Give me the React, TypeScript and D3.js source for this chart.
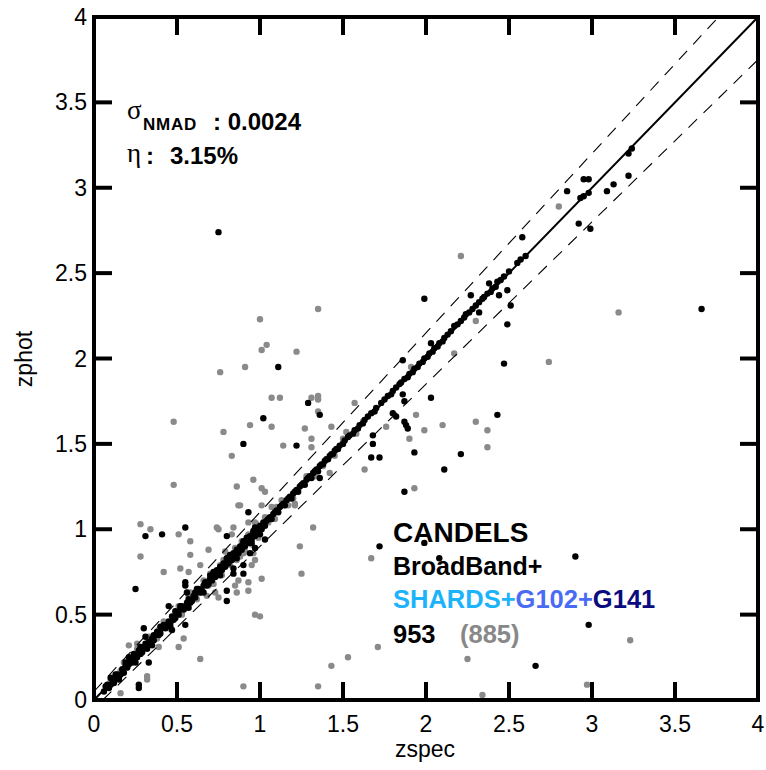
import React from "react";
import * as d3 from "d3";

// ---------- data ----------
const xTicks = [0, 0.5, 1, 1.5, 2, 2.5, 3, 3.5, 4];
const yTicks = [0, 0.5, 1, 1.5, 2, 2.5, 3, 3.5, 4];
const xTickLabels = ["0", "0.5", "1", "1.5", "2", "2.5", "3", "3.5", "4"];
const yTickLabels = ["0", "0.5", "1", "1.5", "2", "2.5", "3", "3.5", "4"];
const outlierFraction = 0.05;

// gray sample (zspec, zphot)
const grayPoints: [number, number][] = [
  [0.10, 0.11], [0.16, 0.17], [0.20, 0.19], [0.24, 0.25], [0.29, 0.30], [0.34, 0.33], [0.39, 0.41],
  [0.44, 0.43], [0.49, 0.50], [0.54, 0.53], [0.59, 0.60], [0.64, 0.63], [0.69, 0.70], [0.74, 0.73],
  [0.79, 0.81], [0.84, 0.83], [0.89, 0.91], [0.94, 0.93], [0.99, 1.01], [1.05, 1.04], [1.15, 1.14],
  [1.25, 1.26], [1.38, 1.37], [1.50, 1.51], [1.62, 1.63],
  [0.72, 0.68], [0.77, 0.73], [0.82, 0.79], [0.86, 0.82], [0.88, 0.84], [0.91, 0.87], [0.95, 0.91],
  [0.62, 0.59], [0.53, 0.50], [0.45, 0.42], [0.38, 0.36], [0.76, 0.79], [0.81, 0.85], [0.89, 0.93],
  [0.98, 1.03], [1.03, 1.07], [1.13, 1.17], [1.28, 1.31], [1.45, 1.43], [1.58, 1.56],
  [0.18, 0.22], [0.42, 0.46], [0.66, 0.70], [0.85, 0.89], [0.93, 0.97], [1.20, 1.18], [1.33, 1.31],
  [0.26, 0.30], [0.33, 0.37], [0.51, 0.55], [0.57, 0.61], [0.70, 0.74], [0.78, 0.82], [0.90, 0.86],
  [0.99, 0.95], [1.09, 1.06], [1.17, 1.14],
  [2.80, 2.89], [2.21, 2.60], [2.74, 1.98], [3.16, 2.27], [2.17, 2.03], [2.30, 2.22], [1.91, 1.95],
  [1.35, 2.29], [1.00, 2.23], [1.04, 2.08], [1.01, 2.05], [1.22, 2.04], [0.91, 1.95], [0.76, 1.92],
  [0.48, 1.63], [0.48, 1.26], [0.94, 1.61], [0.78, 1.57], [0.83, 1.43], [0.96, 1.29], [0.86, 1.25],
  [1.01, 1.24], [0.87, 1.14], [0.88, 1.14], [1.01, 1.14], [0.28, 1.03], [0.34, 1.00], [0.51, 0.97],
  [0.74, 1.01], [0.84, 1.01], [0.83, 0.97], [0.97, 1.04], [0.93, 1.04], [0.75, 1.00],
  [0.28, 0.84], [0.42, 0.75], [0.58, 0.93], [0.58, 0.85], [0.52, 0.77], [0.57, 0.75], [0.64, 0.79],
  [0.69, 0.88], [0.58, 0.63], [0.21, 0.32], [0.26, 0.33], [0.39, 0.31], [0.51, 0.31], [0.54, 0.36],
  [0.64, 0.24], [0.32, 0.14], [0.32, 0.12], [0.90, 0.08], [0.16, 0.04],
  [0.73, 0.63], [0.75, 0.60], [0.85, 0.67], [0.86, 0.63], [0.87, 0.70], [0.93, 0.69], [0.93, 0.64],
  [0.95, 0.79], [0.97, 0.82], [0.96, 0.86], [0.97, 0.50], [1.00, 0.49], [1.01, 0.71], [0.79, 0.87],
  [0.78, 0.78], [0.68, 0.61], [0.69, 0.67],
  [1.07, 1.60], [1.07, 1.77], [1.12, 1.77], [1.14, 1.49], [1.31, 1.77], [1.35, 1.78], [1.35, 1.76],
  [1.27, 1.59], [1.31, 1.53], [1.31, 1.48], [1.43, 1.60], [1.50, 1.53], [1.63, 1.35], [1.42, 1.33],
  [1.21, 1.15], [1.32, 1.01], [1.24, 0.90], [1.25, 0.74], [1.67, 0.83], [1.71, 0.31], [1.53, 0.25],
  [1.43, 0.20], [1.35, 0.08],
  [1.35, 1.69], [1.57, 1.74], [1.94, 1.67], [1.99, 1.58], [1.90, 1.53], [1.76, 1.60], [1.52, 1.57],
  [1.03, 1.22], [1.07, 1.13], [1.10, 1.13], [1.21, 1.14], [1.93, 1.24],
  [2.10, 1.61], [2.30, 1.63], [2.37, 1.58], [2.37, 1.48], [3.23, 0.35], [2.25, 0.24], [2.97, 0.09],
  [2.34, 0.03],
];

// black sample (zspec, zphot)
const blackPoints: [number, number][] = [
  [0.06, 0.05], [0.08, 0.09], [0.09, 0.07], [0.11, 0.12], [0.12, 0.10], [0.14, 0.15], [0.15, 0.13],
  [0.17, 0.18], [0.18, 0.16], [0.19, 0.20], [0.21, 0.21], [0.22, 0.24], [0.23, 0.22], [0.25, 0.26],
  [0.26, 0.25], [0.27, 0.29], [0.28, 0.27], [0.30, 0.31], [0.31, 0.33], [0.32, 0.30], [0.33, 0.34],
  [0.35, 0.36], [0.36, 0.35], [0.37, 0.38], [0.38, 0.40], [0.40, 0.39], [0.41, 0.42], [0.42, 0.44],
  [0.43, 0.42], [0.45, 0.46], [0.46, 0.45], [0.47, 0.49], [0.48, 0.47], [0.50, 0.51], [0.51, 0.50],
  [0.52, 0.53], [0.53, 0.55], [0.55, 0.54], [0.56, 0.57], [0.57, 0.59], [0.58, 0.57], [0.60, 0.61],
  [0.61, 0.60], [0.62, 0.63], [0.63, 0.65], [0.65, 0.64], [0.66, 0.67], [0.67, 0.69], [0.68, 0.67],
  [0.70, 0.71], [0.71, 0.70], [0.72, 0.74], [0.73, 0.72], [0.74, 0.76], [0.75, 0.75], [0.76, 0.78],
  [0.77, 0.76], [0.78, 0.80], [0.79, 0.78], [0.80, 0.82], [0.81, 0.80], [0.82, 0.84], [0.83, 0.82],
  [0.84, 0.86], [0.85, 0.84], [0.86, 0.88], [0.87, 0.86], [0.88, 0.90], [0.89, 0.88], [0.90, 0.92],
  [0.91, 0.90], [0.92, 0.94], [0.93, 0.92], [0.94, 0.96], [0.95, 0.94], [0.96, 0.98], [0.97, 0.96],
  [0.98, 1.00], [0.99, 0.98], [1.00, 1.02], [1.01, 1.00], [1.02, 1.04], [1.04, 1.05], [1.06, 1.07],
  [1.08, 1.09], [1.10, 1.11], [1.12, 1.13], [1.14, 1.15], [1.16, 1.17], [1.18, 1.19], [1.20, 1.21],
  [1.22, 1.23], [1.24, 1.25], [1.26, 1.27], [1.28, 1.29], [1.30, 1.31], [1.32, 1.33], [1.34, 1.35],
  [1.36, 1.37], [1.39, 1.40], [1.42, 1.43], [1.45, 1.46], [1.48, 1.49], [1.51, 1.52], [1.54, 1.55],
  [1.57, 1.58], [1.60, 1.61], [1.63, 1.64], [1.67, 1.68], [1.70, 1.71], [1.73, 1.74], [1.77, 1.78],
  [1.80, 1.81], [1.84, 1.85], [1.87, 1.88], [1.90, 1.91], [1.93, 1.94], [1.96, 1.97], [1.99, 2.00],
  [2.02, 2.03], [2.05, 2.06], [2.08, 2.09], [2.11, 2.12], [2.13, 2.14], [2.15, 2.16], [2.17, 2.19],
  [2.19, 2.20], [2.21, 2.22], [2.23, 2.24], [2.24, 2.26], [2.26, 2.27], [2.28, 2.29], [2.30, 2.31],
  [2.32, 2.33], [2.34, 2.35], [2.37, 2.38], [2.40, 2.41], [2.43, 2.45], [2.45, 2.46], [2.47, 2.48],
  [2.55, 2.56], [2.57, 2.58], [2.60, 2.60], [2.93, 2.94], [2.95, 2.95], [2.98, 2.97], [3.22, 3.20],
  [3.24, 3.23],
  [0.07, 0.08], [0.10, 0.09], [0.13, 0.13], [0.16, 0.15], [0.20, 0.19], [0.24, 0.23], [0.29, 0.28],
  [0.34, 0.33], [0.39, 0.38], [0.44, 0.44], [0.49, 0.48], [0.54, 0.53], [0.59, 0.58], [0.64, 0.63],
  [0.69, 0.68], [0.74, 0.73], [0.79, 0.79], [0.84, 0.83], [0.89, 0.89], [0.94, 0.93], [0.99, 0.99],
  [0.13, 0.15], [0.24, 0.27], [0.36, 0.38], [0.49, 0.52], [0.61, 0.63], [0.72, 0.75], [0.82, 0.85],
  [0.92, 0.95], [0.97, 1.01],
  [0.10, 0.13], [0.19, 0.22], [0.28, 0.31], [0.40, 0.43], [0.52, 0.55], [0.62, 0.65], [0.70, 0.73],
  [0.80, 0.83], [0.90, 0.93], [0.96, 0.99], [0.15, 0.12], [0.25, 0.22], [0.35, 0.32], [0.46, 0.43],
  [0.57, 0.54], [0.66, 0.63], [0.76, 0.73], [0.86, 0.83], [0.95, 0.92], [1.00, 0.97],
  [1.03, 1.02], [1.05, 1.06], [1.07, 1.06], [1.09, 1.10], [1.11, 1.10], [1.13, 1.14], [1.15, 1.14],
  [1.17, 1.18], [1.19, 1.18], [1.21, 1.22], [1.23, 1.22], [1.25, 1.26], [1.27, 1.26], [1.29, 1.30],
  [1.31, 1.30], [1.33, 1.34], [1.35, 1.34], [1.37, 1.38], [1.38, 1.38], [1.40, 1.41], [1.41, 1.41],
  [1.43, 1.44], [1.44, 1.44], [1.46, 1.47], [1.47, 1.47], [1.50, 1.50], [1.53, 1.54], [1.56, 1.56],
  [1.59, 1.59], [1.62, 1.62], [1.65, 1.66], [1.69, 1.69], [1.75, 1.76], [1.79, 1.79], [1.82, 1.83],
  [1.85, 1.86], [1.89, 1.89], [1.92, 1.92], [1.95, 1.95], [1.98, 1.98], [2.01, 2.01], [2.04, 2.04],
  [2.07, 2.07], [2.10, 2.10], [2.35, 2.36], [2.39, 2.39], [2.42, 2.42], [2.50, 2.51],
  [0.75, 2.74],
  [2.85, 2.98], [2.95, 3.05], [2.98, 3.05], [2.92, 2.79], [2.99, 2.76], [3.09, 2.98], [3.13, 3.02],
  [3.22, 3.07], [2.58, 2.71], [1.99, 2.35], [2.27, 2.37], [2.38, 2.44], [2.44, 2.37], [2.49, 2.40],
  [2.51, 2.31], [2.49, 2.20], [2.47, 1.97], [3.66, 2.29], [2.03, 2.09], [1.86, 1.99], [2.32, 2.27],
  [1.11, 1.95], [1.02, 1.65], [0.90, 1.50], [0.93, 1.10], [0.31, 0.96], [0.41, 0.97], [0.55, 1.01],
  [0.80, 0.96], [0.25, 0.65], [0.55, 0.69], [0.55, 0.67], [0.56, 0.63], [0.45, 0.55], [0.30, 0.42],
  [0.31, 0.37], [0.47, 0.41], [0.55, 0.44], [0.33, 0.22], [0.27, 0.09], [0.27, 0.07], [0.21, 0.25],
  [0.80, 0.64], [0.80, 0.58], [0.84, 0.74], [0.90, 0.74], [0.90, 0.79], [0.94, 0.86], [0.84, 0.77],
  [0.97, 0.89], [1.03, 0.94], [1.22, 1.49], [1.29, 1.74], [1.36, 1.67], [1.68, 1.55], [1.68, 1.50],
  [1.67, 1.42], [1.72, 1.42], [1.36, 1.30], [1.72, 0.90], [1.86, 1.79], [1.87, 1.75], [1.80, 1.68],
  [1.82, 1.66], [1.87, 1.63], [1.88, 1.61], [1.89, 1.59], [1.93, 1.45], [1.87, 1.22], [2.03, 1.77],
  [2.43, 1.67], [2.21, 1.44], [2.11, 1.35], [1.99, 0.92], [2.08, 0.83], [2.90, 0.84], [2.98, 0.44],
  [2.66, 0.20],
];

const statsSigma = "0.0024";
const statsEta = "3.15%";
const nBlack = "953";
const nGray = "(885)";

// ---------- layout ----------
const W = 766;
const H = 770;
const left = 94, right = 758, top = 17, bottom = 700;
const SANS = "'Liberation Sans', Arial, Helvetica, sans-serif";
const SERIF = "'Liberation Serif', 'Times New Roman', serif";

export default function App() {
  const x = d3.scaleLinear().domain([0, 4]).range([left, right]);
  const y = d3.scaleLinear().domain([0, 4]).range([bottom, top]);
  const line = d3.line<[number, number]>().x((d) => x(d[0])).y((d) => y(d[1]));

  const oneToOne: [number, number][] = [[0, 0], [4, 4]];
  const upperEnd = (4 - outlierFraction) / (1 + outlierFraction);
  const upper: [number, number][] = [
    [0, outlierFraction],
    [upperEnd, 4],
  ];
  const lowerStart = outlierFraction / (1 - outlierFraction);
  const lower: [number, number][] = [
    [lowerStart, 0],
    [4, 4 - outlierFraction * 5],
  ];

  const tickLen = 18;
  const sw = 4;
  const r = 3.2;

  return (
    <svg
      width={W}
      height={H}
      style={{ position: "absolute", left: 0, top: 0, background: "#fff" }}
      fontFamily={SANS}
    >
      <defs>
        <clipPath id="plot">
          <rect x={left} y={top} width={right - left} height={bottom - top} />
        </clipPath>
      </defs>
      <rect x={0} y={0} width={W} height={H} fill="#fff" />

      <g clipPath="url(#plot)">
        {grayPoints.map((d, i) => (
          <circle key={"g" + i} cx={x(d[0])} cy={y(d[1])} r={r} fill="#8a8a8a" />
        ))}
        {blackPoints.map((d, i) => (
          <circle key={"b" + i} cx={x(d[0])} cy={y(d[1])} r={r} fill="#000" />
        ))}
        <path d={line(oneToOne) || ""} stroke="#000" strokeWidth={2} fill="none" />
        <path d={line(upper) || ""} stroke="#000" strokeWidth={1.1} strokeDasharray="12,9" fill="none" />
        <path d={line(lower) || ""} stroke="#000" strokeWidth={1.1} strokeDasharray="12,9" fill="none" />
      </g>

      {/* ticks */}
      {xTicks.slice(1, -1).map((t) => (
        <g key={"xt" + t}>
          <line x1={x(t)} x2={x(t)} y1={bottom} y2={bottom - tickLen} stroke="#000" strokeWidth={sw} />
          <line x1={x(t)} x2={x(t)} y1={top} y2={top + tickLen} stroke="#000" strokeWidth={sw} />
        </g>
      ))}
      {yTicks.slice(1, -1).map((t) => (
        <g key={"yt" + t}>
          <line x1={left} x2={left + tickLen} y1={y(t)} y2={y(t)} stroke="#000" strokeWidth={sw} />
          <line x1={right} x2={right - tickLen} y1={y(t)} y2={y(t)} stroke="#000" strokeWidth={sw} />
        </g>
      ))}
      <rect
        x={left}
        y={top}
        width={right - left}
        height={bottom - top}
        fill="none"
        stroke="#000"
        strokeWidth={sw}
      />

      {/* tick labels */}
      {xTicks.map((t, i) => (
        <text key={"xl" + t} x={x(t)} y={732} fontSize={23} textAnchor="middle" fill="#000">
          {xTickLabels[i]}
        </text>
      ))}
      {yTicks.map((t, i) => (
        <text
          key={"yl" + t}
          x={87}
          y={y(t) + 8}
          fontSize={23}
          textAnchor="end"
          fill="#000"
        >
          {yTickLabels[i]}
        </text>
      ))}

      {/* axis titles */}
      <text x={425} y={757} fontSize={23} textAnchor="middle" fill="#000">
        zspec
      </text>
      <text
        transform={`translate(32,359) rotate(-90)`}
        fontSize={23}
        textAnchor="middle"
        fill="#000"
      >
        zphot
      </text>

      {/* stats */}
      <text x={127} y={119} fontSize={27} fontFamily={SERIF} fill="#000">
        σ
      </text>
      <text x={143} y={130} fontSize={17} fontWeight="bold" fill="#000" letterSpacing={0.8}>
        NMAD
      </text>
      <text x={213} y={130} fontSize={24} fontWeight="bold" fill="#000">
        {": " + statsSigma}
      </text>
      <text x={127} y={162} fontSize={27} fontFamily={SERIF} fill="#000">
        η
      </text>
      <text x={146} y={164} fontSize={24} fontWeight="bold" fill="#000">
        :
      </text>
      <text x={170} y={164} fontSize={24} fontWeight="bold" fill="#000">
        {statsEta}
      </text>

      {/* legend */}
      <text x={393} y={542} fontSize={28} fontWeight="bold" fill="#000">
        CANDELS
      </text>
      <text x={393} y={575} fontSize={25} fontWeight="bold" fill="#000">
        BroadBand+
      </text>
      <text x={393} y={608} fontSize={25.5} fontWeight="bold">
        <tspan fill="#1db3fb">SHARDS+</tspan>
        <tspan fill="#4a6cf4">G102+</tspan>
        <tspan fill="#0b0b80">G141</tspan>
      </text>
      <text x={393} y={643} fontSize={25.5} fontWeight="bold" fill="#000">
        {nBlack}
      </text>
      <text x={460} y={643} fontSize={25.5} fontWeight="bold" fill="#888">
        {nGray}
      </text>
    </svg>
  );
}
